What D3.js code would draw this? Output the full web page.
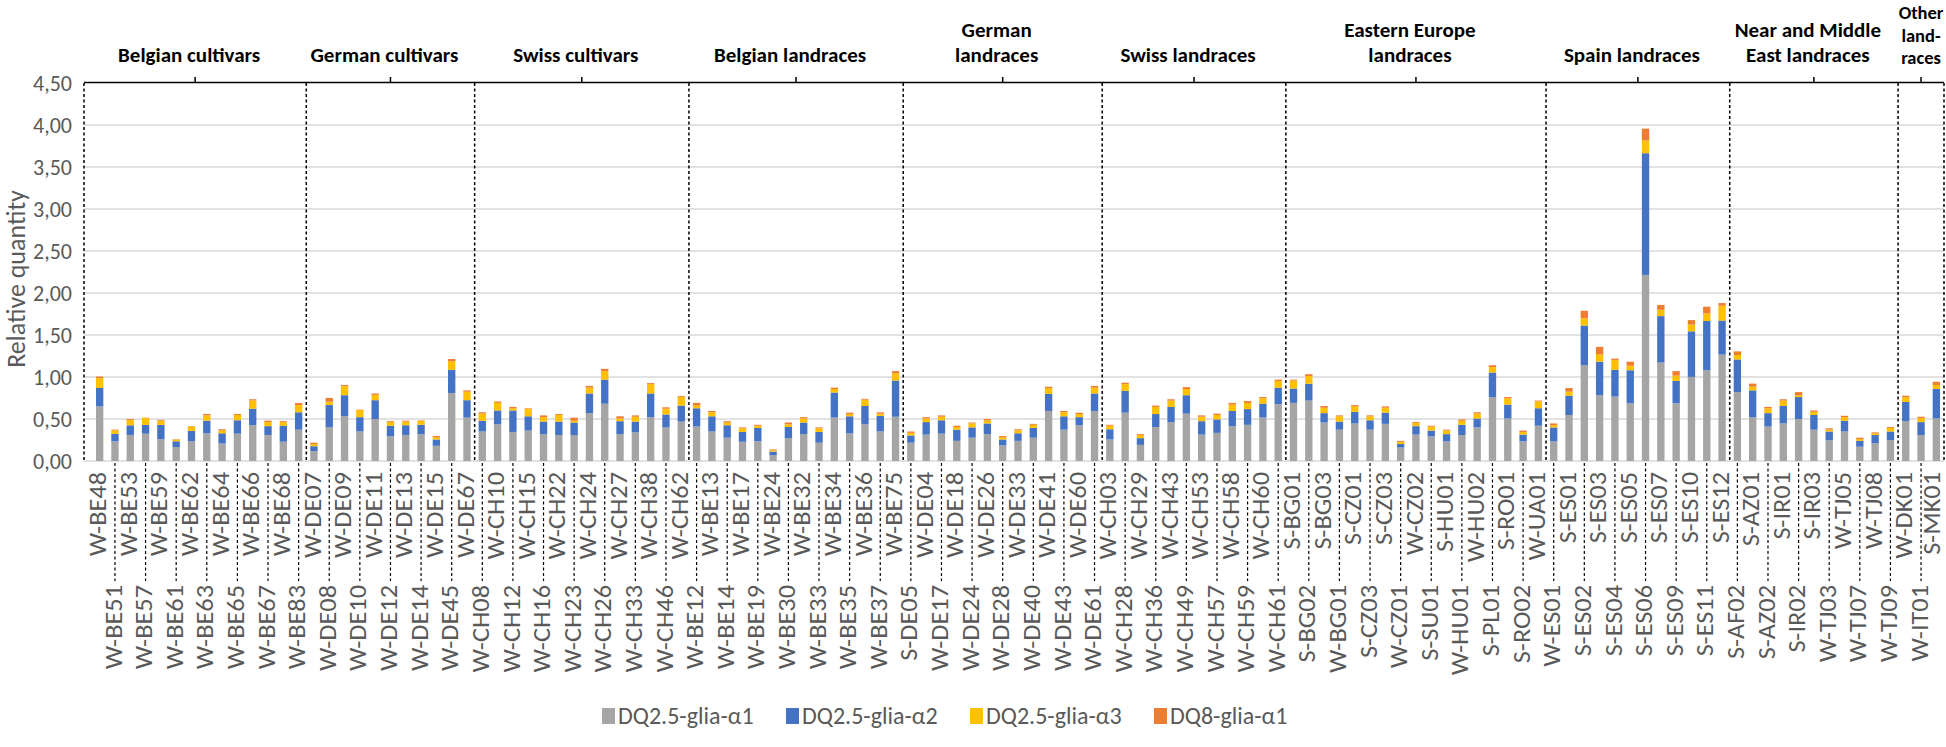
<!DOCTYPE html>
<html><head><meta charset="utf-8">
<script src="https://cdn.jsdelivr.net/npm/d3@7"></script>
<style>body{margin:0;background:#fff}svg{display:block}</style>
</head><body><svg id="c" width="1946" height="747"></svg>
<script>
const categories = [
 "W-BE48","W-BE51","W-BE53","W-BE57","W-BE59","W-BE61","W-BE62","W-BE63","W-BE64","W-BE65","W-BE66","W-BE67","W-BE68","W-BE83",
 "W-DE07","W-DE08","W-DE09","W-DE10","W-DE11","W-DE12","W-DE13","W-DE14","W-DE15","W-DE45","W-DE67",
 "W-CH08","W-CH10","W-CH12","W-CH15","W-CH16","W-CH22","W-CH23","W-CH24","W-CH26","W-CH27","W-CH33","W-CH38","W-CH46","W-CH62",
 "W-BE12","W-BE13","W-BE14","W-BE17","W-BE19","W-BE24","W-BE30","W-BE32","W-BE33","W-BE34","W-BE35","W-BE36","W-BE37","W-BE75",
 "S-DE05","W-DE04","W-DE17","W-DE18","W-DE24","W-DE26","W-DE28","W-DE33","W-DE40","W-DE41","W-DE43","W-DE60","W-DE61",
 "W-CH03","W-CH28","W-CH29","W-CH36","W-CH43","W-CH49","W-CH53","W-CH57","W-CH58","W-CH59","W-CH60","W-CH61",
 "S-BG01","S-BG02","S-BG03","W-BG01","S-CZ01","S-CZ03","S-CZ03","W-CZ01","W-CZ02","S-SU01","S-HU01","W-HU01","W-HU02","S-PL01","S-RO01","S-RO02","W-UA01",
 "W-ES01","S-ES01","S-ES02","S-ES03","S-ES04","S-ES05","S-ES06","S-ES07","S-ES09","S-ES10","S-ES11","S-ES12",
 "S-AF02","S-AZ01","S-AZ02","S-IR01","S-IR02","S-IR03","W-TJ03","W-TJ05","W-TJ07","W-TJ08","W-TJ09",
 "W-DK01","W-IT01","S-MK01"];
const groupTitles = [["Belgian cultivars"],["German cultivars"],["Swiss cultivars"],["Belgian landraces"],["German","landraces"],["Swiss landraces"],["Eastern Europe","landraces"],["Spain landraces"],["Near and Middle","East landraces"],["Other","land-","races"]];
const groupSizes = [14,11,14,14,13,12,17,12,11,3];
const seriesNames = ["DQ2.5-glia-α1","DQ2.5-glia-α2","DQ2.5-glia-α3","DQ8-glia-α1"];
const seriesColors = ["#A5A5A5","#4472C4","#FFC000","#ED7D31"];
const glia_a1 = [
 .65,.234,.31,.325,.26,.165,.234,.33,.208,.325,.426,.31,.23,.373,
 .117,.40,.533,.351,.5,.293,.31,.32,.181,.81,.517,
 .351,.437,.346,.362,.32,.309,.309,.57,.682,.32,.341,.522,.4,.469,
 .41,.351,.277,.229,.234,.069,.272,.32,.218,.517,.33,.437,.351,.527,
 .218,.314,.325,.24,.277,.32,.186,.24,.277,.596,.373,.426,.596,
 .256,.575,.192,.405,.463,.564,.314,.335,.415,.431,.517,.676,
 .692,.719,.458,.373,.447,.373,.442,.16,.314,.293,.234,.309,.4,.761,.506,.234,.42,
 .234,.548,1.14,.783,.767,.687,2.215,1.172,.687,1.001,1.081,1.267,
 .82,.522,.41,.447,.5,.373,.245,.351,.17,.213,.25,
 .474,.309,.506];
const glia_a2 = [
 .22,.09,.115,.105,.17,.07,.123,.15,.122,.16,.197,.105,.19,.207,
 .059,.266,.25,.171,.224,.127,.116,.111,.075,.276,.207,
 .128,.165,.256,.17,.149,.16,.149,.234,.287,.154,.128,.282,.154,.191,
 .218,.181,.149,.117,.16,.043,.133,.138,.128,.298,.202,.218,.187,.431,
 .086,.149,.16,.133,.123,.127,.07,.09,.117,.203,.159,.096,.208,
 .122,.261,.08,.154,.181,.219,.16,.16,.181,.187,.165,.197,
 .171,.202,.112,.096,.139,.112,.133,.042,.101,.069,.086,.122,.106,.293,.165,.08,.208,
 .166,.229,.473,.399,.319,.394,1.449,.553,.266,.543,.586,.405,
 .389,.319,.16,.208,.261,.175,.106,.128,.07,.096,.101,
 .229,.154,.351];
const glia_a3 = [
 .115,.04,.065,.08,.05,.02,.053,.063,.032,.063,.097,.048,.043,.086,
 .024,.04,.106,.085,.064,.043,.043,.048,.026,.101,.101,
 .085,.09,.026,.091,.053,.079,.021,.069,.101,.032,.058,.112,.069,.101,
 .032,.048,.032,.043,.026,.016,.032,.048,.043,.042,.027,.075,.026,.086,
 .031,.043,.042,.032,.047,.038,.026,.037,.037,.069,.048,.037,.069,
 .042,.08,.037,.085,.075,.074,.053,.053,.075,.074,.064,.08,
 .095,.091,.064,.063,.064,.047,.059,.027,.038,.048,.042,.048,.058,.064,.075,.032,.08,
 .026,.048,.086,.085,.117,.053,.154,.075,.064,.08,.09,.176,
 .053,.043,.058,.064,.022,.038,.022,.043,.021,.021,.043,
 .058,.048,.048];
const dq8_a1 = [
 .02,.01,.01,.005,.01,.005,.005,.017,.016,.012,.015,.017,.011,.024,
 .018,.045,.016,.005,.016,.011,.011,.005,.016,.027,.016,
 .016,.016,.016,.005,.021,.011,.037,.021,.027,.026,.016,.011,.016,.011,
 .032,.016,.016,.011,.011,.01,.021,.016,.011,.016,.016,.01,.016,.026,
 .016,.016,.016,.015,.011,.015,.016,.011,.011,.016,.016,.016,.021,
 .011,.016,.011,.016,.016,.022,.016,.016,.021,.022,.015,.016,
 .011,.021,.021,.011,.016,.011,.016,.011,.01,.01,.011,.016,.016,.022,.015,.016,.011,
 .021,.043,.09,.091,.016,.048,.139,.058,.053,.053,.08,.032,
 .043,.037,.016,.016,.037,.016,.016,.016,.016,.011,.011,
 .016,.016,.038];
const yTicks = [0,0.5,1,1.5,2,2.5,3,3.5,4,4.5];
const yTitle = "Relative quantity";

const FONT = "Carlito, Lato, 'Liberation Sans', sans-serif";
const TXT = "#595959";
const svg = d3.select("#c");
const W = 1946;
const plotL = 84, plotR = 1944, plotT = 83, plotB = 461;
const n = categories.length;
const rows = categories.map((c,i)=>({i, label:c, s0:glia_a1[i], s1:glia_a2[i], s2:glia_a3[i], s3:dq8_a1[i]}));
const keys = ["s0","s1","s2","s3"];
const pad = 0.52;
const x = d3.scaleBand().domain(d3.range(n)).range([92, plotR]).paddingInner(pad).paddingOuter(pad/2);
const y = d3.scaleLinear().domain([0,4.5]).range([plotB, plotT]);
const step = x.step();
const bnd = b => b===0 ? plotL : x.range()[0] + b*step;

// gridlines
svg.append("g").selectAll("line").data(yTicks.filter(t=>t<4.5)).join("line")
  .attr("x1",plotL).attr("x2",plotR).attr("y1",d=>y(d)).attr("y2",d=>y(d))
  .attr("stroke","#D9D9D9").attr("stroke-width",1.5);

// y axis labels
const yAxis = d3.axisLeft(y).tickValues(yTicks).tickSize(0).tickPadding(0)
  .tickFormat(d=>d3.format(".2f")(d).replace(".",","));
const ya = svg.append("g").attr("transform",`translate(72,0)`).call(yAxis);
ya.select(".domain").remove();
ya.selectAll("text").attr("font-family",FONT).attr("font-size",22).attr("fill",TXT);

svg.append("text").attr("transform",`translate(25,279) rotate(-90)`)
  .attr("text-anchor","middle").attr("font-family",FONT).attr("font-size",26).attr("fill",TXT).text(yTitle);

// bars
const stacked = d3.stack().keys(keys)(rows);
svg.append("g").selectAll("g").data(stacked).join("g")
  .attr("fill",(d,k)=>seriesColors[k])
  .selectAll("rect").data(d=>d).join("rect")
  .attr("x",d=>x(d.data.i)).attr("width",x.bandwidth())
  .attr("y",d=>y(d[1])).attr("height",d=>y(d[0])-y(d[1]));

// group boundaries & titles
let starts=[0]; groupSizes.forEach((s,k)=>starts.push(starts[k]+s));
const sep = svg.append("g");
starts.forEach((b,k)=>{
  const xx = k===starts.length-1 ? plotR : bnd(b);
  sep.append("line").attr("x1",xx).attr("x2",xx).attr("y1",plotT).attr("y2",plotB)
    .attr("stroke","#000").attr("stroke-width",1.5).attr("stroke-dasharray","3,2.5");
});
svg.append("line").attr("x1",plotL).attr("x2",plotR).attr("y1",plotT-0.5).attr("y2",plotT-0.5).attr("stroke","#000").attr("stroke-width",1.5);
groupTitles.forEach((lines,k)=>{
  const x0 = bnd(starts[k]), x1 = k===groupTitles.length-1 ? plotR : bnd(starts[k+1]);
  const cx = (x0+x1)/2;
  svg.append("line").attr("x1",cx).attr("x2",cx).attr("y1",plotT).attr("y2",plotT-6).attr("stroke","#000").attr("stroke-width",1.5);
  const tx = (x1-x0)>100 ? cx-6 : cx;
  const three = lines.length>2;
  const lh = three ? 22.5 : 25;
  const base = three ? 64 : 62;
  const t = svg.append("text").attr("text-anchor","middle").attr("font-family",FONT)
    .attr("font-size",three ? 18.5 : 21).attr("font-weight",600).attr("fill","#000");
  lines.forEach((ln,j)=>{
    t.append("tspan").attr("x",tx).attr("y",base-(lines.length-1-j)*lh).text(ln);
  });
});

// x labels
const xl = svg.append("g");
const LFS = 23.5;
rows.forEach(r=>{
  const cx = x(r.i)+x.bandwidth()/2;
  const lower = r.i%2===1;
  const yEnd = lower ? 585 : 472;
  if(lower){
    xl.append("line").attr("x1",cx).attr("x2",cx).attr("y1",plotB+2).attr("y2",yEnd-4)
      .attr("stroke","#000").attr("stroke-width",1.2).attr("stroke-dasharray","3,2.5");
  }
  const tx = Math.min(cx, W - 1 - LFS*0.5);
  xl.append("text").attr("transform",`translate(${tx},${yEnd}) rotate(-90) scale(1.12,1)`)
    .attr("text-anchor","end").attr("dy","0.28em")
    .attr("font-family",FONT).attr("font-size",LFS).attr("fill",TXT).text(r.label);
});

// legend
const lg = svg.append("g");
seriesNames.forEach((nm,k)=>{
  const lx = 602 + k*184;
  lg.append("rect").attr("x",lx).attr("y",708).attr("width",13).attr("height",16).attr("fill",seriesColors[k]);
  lg.append("text").attr("x",lx+16).attr("y",716).attr("dy","0.35em")
    .attr("font-family",FONT).attr("font-size",24).attr("fill",TXT).text(nm);
});
</script></body></html>
